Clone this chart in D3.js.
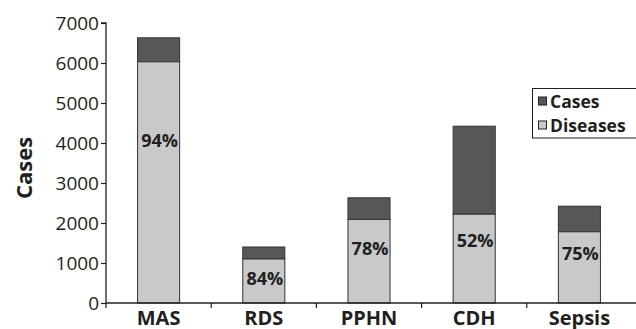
<!DOCTYPE html>
<html><head><meta charset="utf-8">
<script src="https://cdn.jsdelivr.net/npm/d3@7"></script>
<style>
body{margin:0;background:#fff;}
svg{display:block;font-family:"Open Sans",sans-serif;}
</style></head>
<body>
<svg id="chart" width="636" height="329"></svg>
<script>
const categories = ["MAS", "RDS", "PPHN", "CDH", "Sepsis"];
const diseases = [6030, 1100, 2090, 2220, 1780];
const totals = [6630, 1400, 2630, 4420, 2420];
const pctLabels = ["94%", "84%", "78%", "52%", "75%"];
const pctLabelAt = [4080, 625, 1375, 1575, 1250];
const yTicks = [0, 1000, 2000, 3000, 4000, 5000, 6000, 7000];
const seriesNames = ["Cases", "Diseases"];
const colors = {Cases: "#555759", Diseases: "#c8c9cb"};

const svg = d3.select("#chart");
const m = {left: 106, top: 23, right: 4, bottom: 26};
const x = d3.scaleBand().domain(categories).range([m.left, 632]).paddingInner(0.6).paddingOuter(0.3);
const y = d3.scaleLinear().domain([0, 7000]).range([303, 23]);

// bars
const g = svg.append("g");
categories.forEach((c, i) => {
  g.append("rect").attr("x", x(c)).attr("width", x.bandwidth())
    .attr("y", y(totals[i])).attr("height", y(diseases[i]) - y(totals[i]))
    .attr("fill", colors.Cases).attr("stroke", "#333").attr("stroke-width", 1);
  g.append("rect").attr("x", x(c)).attr("width", x.bandwidth())
    .attr("y", y(diseases[i])).attr("height", y(0) - y(diseases[i]))
    .attr("fill", colors.Diseases).attr("stroke", "#333").attr("stroke-width", 1);
  g.append("text").attr("x", x(c) + x.bandwidth() / 2 + 1).attr("y", y(pctLabelAt[i]))
    .attr("text-anchor", "middle").attr("dominant-baseline", "central")
    .attr("font-weight", "bold").attr("font-size", 18).attr("fill", "#231f20")
    .text(pctLabels[i]);
});

// y axis
const yAxis = d3.axisLeft(y).tickValues(yTicks).tickSize(5).tickPadding(2).tickFormat(d3.format("d"));
const ya = svg.append("g").attr("transform", `translate(${m.left},0)`).call(yAxis);
ya.select(".domain").attr("stroke", "#231f20").attr("stroke-width", 1.3).attr("d", `M-5,${y(7000)}H0V${y(0)}`);
ya.selectAll(".tick line").attr("stroke", "#231f20").attr("stroke-width", 1.2);
ya.selectAll(".tick text").attr("font-size", 19).attr("fill", "#231f20").attr("font-family", "Open Sans");

// x axis
const xBand = d3.scaleBand().domain(categories).range([m.left, 632]);
const xa = svg.append("g").attr("transform", `translate(0,${y(0)})`);
xa.append("line").attr("x1", m.left).attr("x2", 636).attr("y1", 0).attr("y2", 0).attr("stroke", "#231f20").attr("stroke-width", 1.3);
categories.forEach((c) => {
  xa.append("line").attr("x1", xBand(c)).attr("x2", xBand(c)).attr("y1", 0).attr("y2", 5).attr("stroke", "#231f20").attr("stroke-width", 1.2);
  xa.append("text").attr("x", x(c) + x.bandwidth() / 2).attr("y", 21.5).attr("text-anchor", "middle")
    .attr("font-weight", "bold").attr("font-size", 20).attr("fill", "#231f20").text(c);
});

// y title
svg.append("text").attr("transform", "translate(32,168) rotate(-90)").attr("text-anchor", "middle")
  .attr("font-weight", "bold").attr("font-size", 22).attr("fill", "#231f20").text("Cases");

// legend
const lg = svg.append("g");
lg.append("rect").attr("x", 532.5).attr("y", 88.5).attr("width", 110).attr("height", 49.5)
  .attr("fill", "#fff").attr("stroke", "#231f20").attr("stroke-width", 1);
seriesNames.forEach((s, i) => {
  const cy = 101 + i * 24;
  lg.append("rect").attr("x", 538.5).attr("y", cy - 4).attr("width", 8).attr("height", 8)
    .attr("fill", colors[s]).attr("stroke", "#231f20").attr("stroke-width", 1);
  lg.append("text").attr("x", 550).attr("y", cy).attr("dominant-baseline", "central")
    .attr("font-weight", "bold").attr("font-size", 17.5).attr("fill", "#231f20").text(s);
});
</script>
</body></html>
